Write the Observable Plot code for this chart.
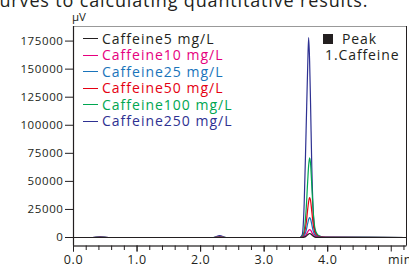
<!DOCTYPE html>
<html><head><meta charset="utf-8">
<script src="https://cdn.jsdelivr.net/npm/d3@7"></script>
<script src="https://cdn.jsdelivr.net/npm/@observablehq/plot@0.6"></script>
<style>
html,body{margin:0;padding:0;width:409px;height:264px;overflow:hidden;background:#fff;font-family:"Open Sans",sans-serif;}
#wrap{position:relative;width:409px;height:264px;}
#chart svg text{letter-spacing:0.6px;}
#top{position:absolute;left:-10px;top:-12px;font-size:18px;letter-spacing:0.85px;color:#231f20;white-space:nowrap;}
#unit{position:absolute;left:72px;top:9px;font-size:11.5px;color:#231f20;}
#legend{position:absolute;left:83px;top:30.5px;font-size:14px;line-height:16.5px;letter-spacing:1px;}
#legend div{white-space:nowrap;height:16.5px;}
#legend span.sw{display:inline-block;width:15px;height:0;border-top:1.3px solid;vertical-align:middle;margin-right:4px;position:relative;top:-1px;}
#peak{position:absolute;left:323px;top:30.5px;font-size:14px;line-height:16.5px;letter-spacing:0.9px;color:#231f20;}
#peak .sq{display:inline-block;width:10px;height:10px;background:#231f20;margin-right:9px;position:relative;top:0px;}
#peak .l2{margin-left:2px;}
#min{position:absolute;left:388px;top:251px;font-size:12.5px;letter-spacing:0.5px;color:#231f20;}
</style></head>
<body><div id="wrap">
<div id="top">curves to calculating quantitative results.</div>
<div id="unit">μV</div>
<div id="chart"></div>
<div id="legend"></div>
<div id="peak"><div><span class="sq"></span>Peak</div><div class="l2">1.Caffeine</div></div>
<div id="min">min</div>
</div>
<script>
const times = [0, 0.3, 0.42, 0.55, 2.2, 2.3, 2.4, 3.56, 3.60, 3.63, 3.66, 3.685, 3.70, 3.715, 3.73, 3.75, 3.77, 3.80, 3.84, 3.89, 3.96, 5.24];
const seriesNames = ["Caffeine5 mg/L","Caffeine10 mg/L","Caffeine25 mg/L","Caffeine50 mg/L","Caffeine100 mg/L","Caffeine250 mg/L"];
const seriesColors = ["#231f20","#e6007e","#1a74bb","#e50012","#00a651","#2e3192"];
const c5   = [0,0,15,0,0,30,0,0,50,300,1200,2500,3200,3550,3300,2300,1250,400,130,50,15,0];
const c10  = [0,0,30,0,0,60,0,0,100,600,2400,5000,6400,7100,6600,4600,2500,800,260,100,30,0];
const c25  = [0,0,80,0,0,150,0,0,250,1500,6000,12500,16000,17700,16500,11500,6200,2000,650,250,80,0];
const c50  = [0,0,150,0,0,300,0,0,500,3000,12000,25000,32000,35500,33000,23000,12500,4000,1300,500,150,0];
const c100 = [0,0,300,0,0,600,0,0,1000,6000,24000,50000,64000,71000,66000,46000,25000,8000,2500,900,300,0];
const c250 = [0,0,900,0,0,1800,0,0,2500,30000,95000,152000,178000,158000,120000,62000,26000,6000,2000,900,300,0];
const seriesValues = [c5,c10,c25,c50,c100,c250];
const yTicks = [0,25000,50000,75000,100000,125000,150000,175000];
const xMajor = [0,1,2,3,4,5];
const xLabels = [0,1,2,3,4];
const xMinor = [0.2,0.4,0.6,0.8,1.2,1.4,1.6,1.8,2.2,2.4,2.6,2.8,3.2,3.4,3.6,3.8,4.2,4.4,4.6,4.8,5.2];

const rows = [];
seriesNames.forEach((s,i) => times.forEach((t,j) => rows.push({series:s, t, v:seriesValues[i][j], order:i})));
const drawOrder = [5,4,3,2,1,0];

const chart = Plot.plot({
  width: 409, height: 264,
  marginLeft: 73, marginRight: 3, marginTop: 26, marginBottom: 18.5,
  style: {fontFamily: "Open Sans, sans-serif", fontSize: "12px", color: "#231f20", background: "white", overflow: "visible"},
  x: {domain: [0, 5.24], axis: null},
  y: {domain: [-7573, 187990], axis: null},
  color: {domain: seriesNames, range: seriesColors},
  marks: [
    Plot.frame({stroke: "#999", strokeWidth: 1}),
    ...drawOrder.map(i => Plot.line(rows.filter(d => d.order === i), {x: "t", y: "v", stroke: "series", strokeWidth: 1.2, curve: "monotone-x"})),
    Plot.ruleY([-7573], {stroke: "#231f20", strokeWidth: 1.2}),
    Plot.ruleX([0], {stroke: "#231f20", strokeWidth: 1.2}),
    Plot.ruleX([5.24], {stroke: "#231f20", strokeWidth: 1}),
    Plot.axisY(yTicks, {label: null, tickSize: 8, tickPadding: 2, tickFormat: d => String(d), stroke: "#231f20", fill: "#231f20", fontSize: 11.5}),
    Plot.axisX(xMinor, {label: null, tickSize: 4.5, tickFormat: () => "", stroke: "#231f20"}),
    Plot.axisX(xMajor, {label: null, tickSize: 6, tickFormat: () => "", stroke: "#231f20"}),
    Plot.axisX(xLabels, {label: null, tickSize: 6, tickPadding: 3.5, tickFormat: d => d.toFixed(1), stroke: "#231f20", fill: "#231f20", fontSize: 12.5})
  ]
});
document.getElementById("chart").appendChild(chart);

const lg = document.getElementById("legend");
seriesNames.forEach((s,i) => {
  const d = document.createElement("div");
  d.style.color = seriesColors[i];
  d.innerHTML = `<span class="sw" style="border-color:${seriesColors[i]}"></span>${s}`;
  lg.appendChild(d);
});
</script>
</body></html>
